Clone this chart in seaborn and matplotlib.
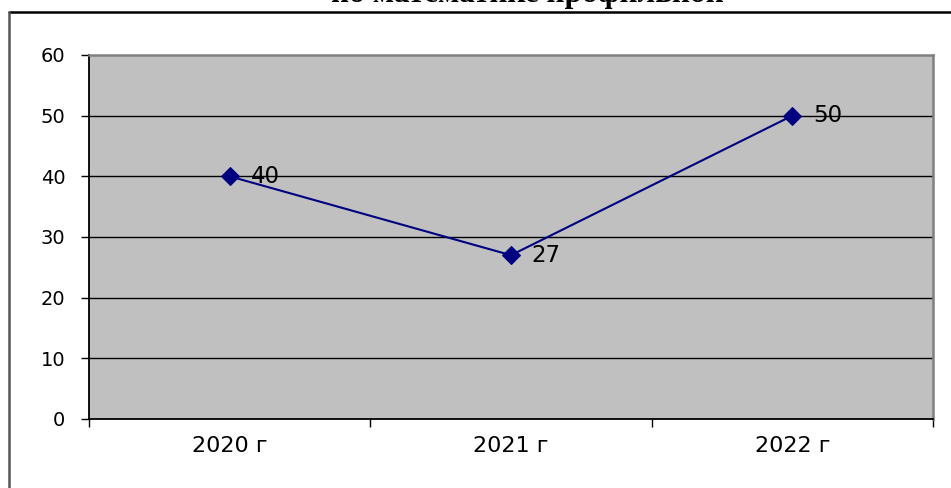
import matplotlib
matplotlib.use("Agg")
import matplotlib.pyplot as plt
from matplotlib.lines import Line2D
import pandas as pd
import seaborn as sns

# data
years = ["2020 г", "2021 г", "2022 г"]
values = [40, 27, 50]
title = "по математике профильной"

W, H = 951, 488
sns.set_theme(style="white")
plt.rcParams['font.family'] = ['DejaVu Sans']

fig = plt.figure(figsize=(W / 100, H / 100), dpi=100)
fig.patch.set_facecolor("white")

# plot area in pixels: left 89, right 933, top 55, bottom 419
ax = fig.add_axes([89 / W, 1 - 419 / H, (933 - 89) / W, (419 - 55) / H])
ax.set_facecolor("#c0c0c0")

df = pd.DataFrame({"year": years, "value": values})
sns.lineplot(data=df, x="year", y="value", ax=ax, color="#000080",
             linewidth=1.5, marker="D", markersize=9,
             markeredgecolor="#000080", zorder=3)

ax.set_xlim(-0.5, len(years) - 0.5)
ax.set_ylim(0, 60)
ax.set_yticks(range(0, 61, 10))
ax.set_xticks(range(len(years)))
ax.set_xticklabels(years)
ax.set_xticks([i - 0.5 for i in range(len(years) + 1)], minor=True)
ax.set_xlabel("")
ax.set_ylabel("")

for y in range(10, 60, 10):
    ax.axhline(y, color="black", linewidth=1, zorder=1)

ax.tick_params(axis="y", which="major", direction="out", length=6, width=1,
               color="black", labelcolor="black", labelsize=14, pad=11, left=True)
ax.tick_params(axis="x", which="major", length=0, labelsize=16, pad=12,
               labelcolor="black")
ax.tick_params(axis="x", which="minor", direction="out", length=6, width=1,
               color="black", bottom=True)

for s in ["left", "bottom"]:
    ax.spines[s].set_color("black")
    ax.spines[s].set_linewidth(1.3)
for s in ["top", "right"]:
    ax.spines[s].set_color("#808080")
    ax.spines[s].set_linewidth(1.8)

for i, v in enumerate(values):
    ax.annotate(str(v), (i, v), xytext=(15, 0), textcoords="offset points",
                ha="left", va="center", fontsize=16.5, color="black")

# outer chart frame
fig.add_artist(Line2D([9 / W, 1], [1 - 11.5 / H, 1 - 11.5 / H],
                      color="black", linewidth=1.8))
fig.add_artist(Line2D([9 / W, 9 / W], [0, 1 - 11.5 / H],
                      color="#555555", linewidth=1.8))

# clipped title
fig.text(527 / W, 1 - 2 / H, title, ha="center", va="baseline",
         fontsize=22.5, fontweight="bold", color="black",
         family=["Liberation Serif", "DejaVu Serif"])

fig.savefig("out.png", dpi=100, facecolor="white")
